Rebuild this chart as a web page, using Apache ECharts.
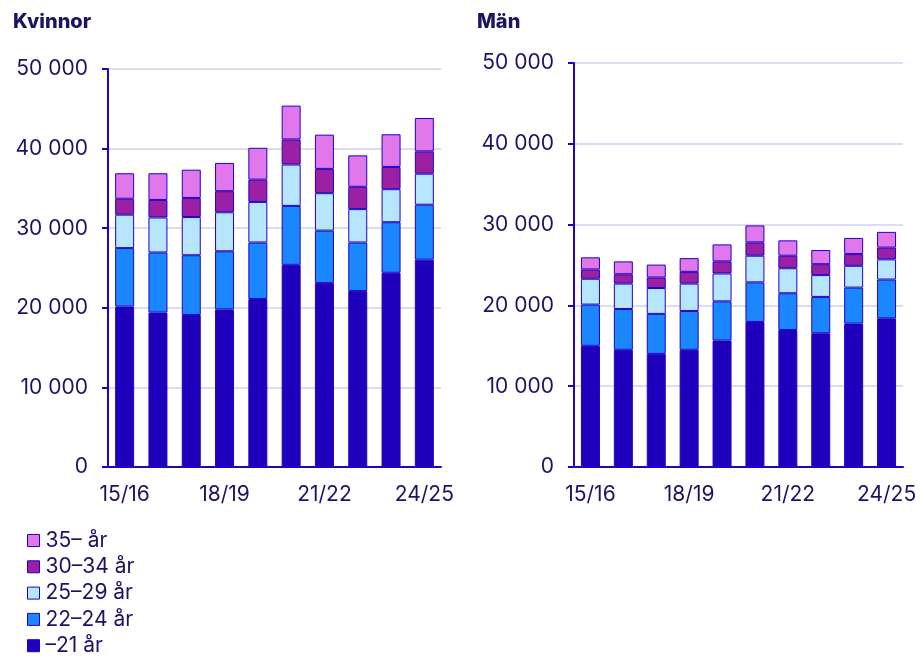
<!DOCTYPE html>
<html>
<head>
<meta charset="utf-8">
<script src="https://cdn.jsdelivr.net/npm/echarts@6/dist/echarts.min.js"></script>
<style>
html, body { margin: 0; padding: 0; background: #fff; }
#chart { width: 922px; height: 657px; }
</style>
</head>
<body>
<div id="chart"></div>
<script>
// läsår
var categories = ['15/16', '16/17', '17/18', '18/19', '19/20', '20/21', '21/22', '22/23', '23/24', '24/25'];
var ageGroups = ['–21 år', '22–24 år', '25–29 år', '30–34 år', '35– år'];
var colors = ['#1f00bd', '#1b87ff', '#b5e6fd', '#9b20a4', '#e077ea'];

// Kvinnor
var kv21 = [20150, 19400, 19100, 19800, 21100, 25400, 23100, 22100, 24400, 26050];
var kv22 = [7350, 7550, 7500, 7300, 7100, 7400, 6600, 6100, 6350, 6900];
var kv25 = [4200, 4400, 4800, 4900, 5100, 5200, 4700, 4200, 4150, 3900];
var kv30 = [2000, 2200, 2400, 2650, 2800, 3150, 3050, 2800, 2800, 2800];
var kv35 = [3200, 3350, 3550, 3550, 4000, 4250, 4300, 3950, 4100, 4200];

// Män
var m21 = [15000, 14500, 14000, 14500, 15650, 17950, 16950, 16550, 17750, 18400];
var m22 = [5100, 5050, 4950, 4800, 4850, 4900, 4550, 4500, 4450, 4800];
var m25 = [3200, 3150, 3200, 3400, 3450, 3300, 3100, 2700, 2700, 2500];
var m30 = [1150, 1150, 1300, 1450, 1500, 1650, 1550, 1350, 1450, 1450];
var m35 = [1500, 1600, 1600, 1700, 2100, 2100, 1900, 1750, 2000, 1950];

var textColor = '#1b1464';
var axisColor = '#2200c4';

function fmt(v) {
	return String(v).replace(/\B(?=(\d{3})+(?!\d))/g, ' ');
}

function xAxisFor(idx) {
	return {
		type: 'category',
		gridIndex: idx,
		data: categories,
		axisLine: { lineStyle: { color: axisColor, width: 2 } },
		axisTick: { show: false },
		axisLabel: { interval: 2, color: textColor, fontSize: 21, fontFamily: 'Inter', margin: 17 }
	};
}

function yAxisFor(idx) {
	return {
		type: 'value',
		gridIndex: idx,
		min: 0,
		max: 50000,
		interval: 10000,
		axisLine: { show: true, lineStyle: { color: axisColor, width: 2 } },
		axisTick: { show: true, length: 6, lineStyle: { color: axisColor, width: 2 } },
		axisLabel: { color: textColor, fontSize: 21, fontFamily: 'Inter', margin: 20, formatter: fmt },
		splitLine: { lineStyle: { color: '#dcdaf5', width: 2 } }
	};
}

function makeSeries(lists, idx) {
	return lists.map(function(list, i) {
		return {
			name: ageGroups[i],
			type: 'bar',
			stack: 'g' + idx,
			xAxisIndex: idx,
			yAxisIndex: idx,
			barWidth: 19,
			data: list,
			itemStyle: { color: colors[i], borderColor: axisColor, borderWidth: 1 },
			emphasis: { disabled: true }
		};
	});
}

var series = makeSeries([kv21, kv22, kv25, kv30, kv35], 0)
	.concat(makeSeries([m21, m22, m25, m30, m35], 1));

var myChart = echarts.init(document.getElementById('chart'));
myChart.setOption({
	animation: false,
	color: colors,
	title: [
		{ text: 'Kvinnor', left: 8, top: 7, textStyle: { color: textColor, fontSize: 20, fontWeight: 800, fontFamily: 'Inter' } },
		{ text: 'Män', left: 472, top: 7, textStyle: { color: textColor, fontSize: 20, fontWeight: 800, fontFamily: 'Inter' } }
	],
	legend: {
		orient: 'vertical',
		left: 27,
		top: 530,
		padding: 0,
		itemWidth: 12,
		itemHeight: 12,
		itemGap: 5.3,
		icon: 'rect',
		data: ageGroups.slice().reverse(),
		textStyle: { color: textColor, fontSize: 21, lineHeight: 21, fontFamily: 'Inter', padding: [0, 0, 0, 1] },
		itemStyle: { borderColor: axisColor, borderWidth: 1 }
	},
	grid: [
		{ left: 108, right: 481, top: 69, bottom: 190 },
		{ left: 574, right: 19, top: 63, bottom: 190 }
	],
	xAxis: [xAxisFor(0), xAxisFor(1)],
	yAxis: [yAxisFor(0), yAxisFor(1)],
	series: series
});
</script>
</body>
</html>
